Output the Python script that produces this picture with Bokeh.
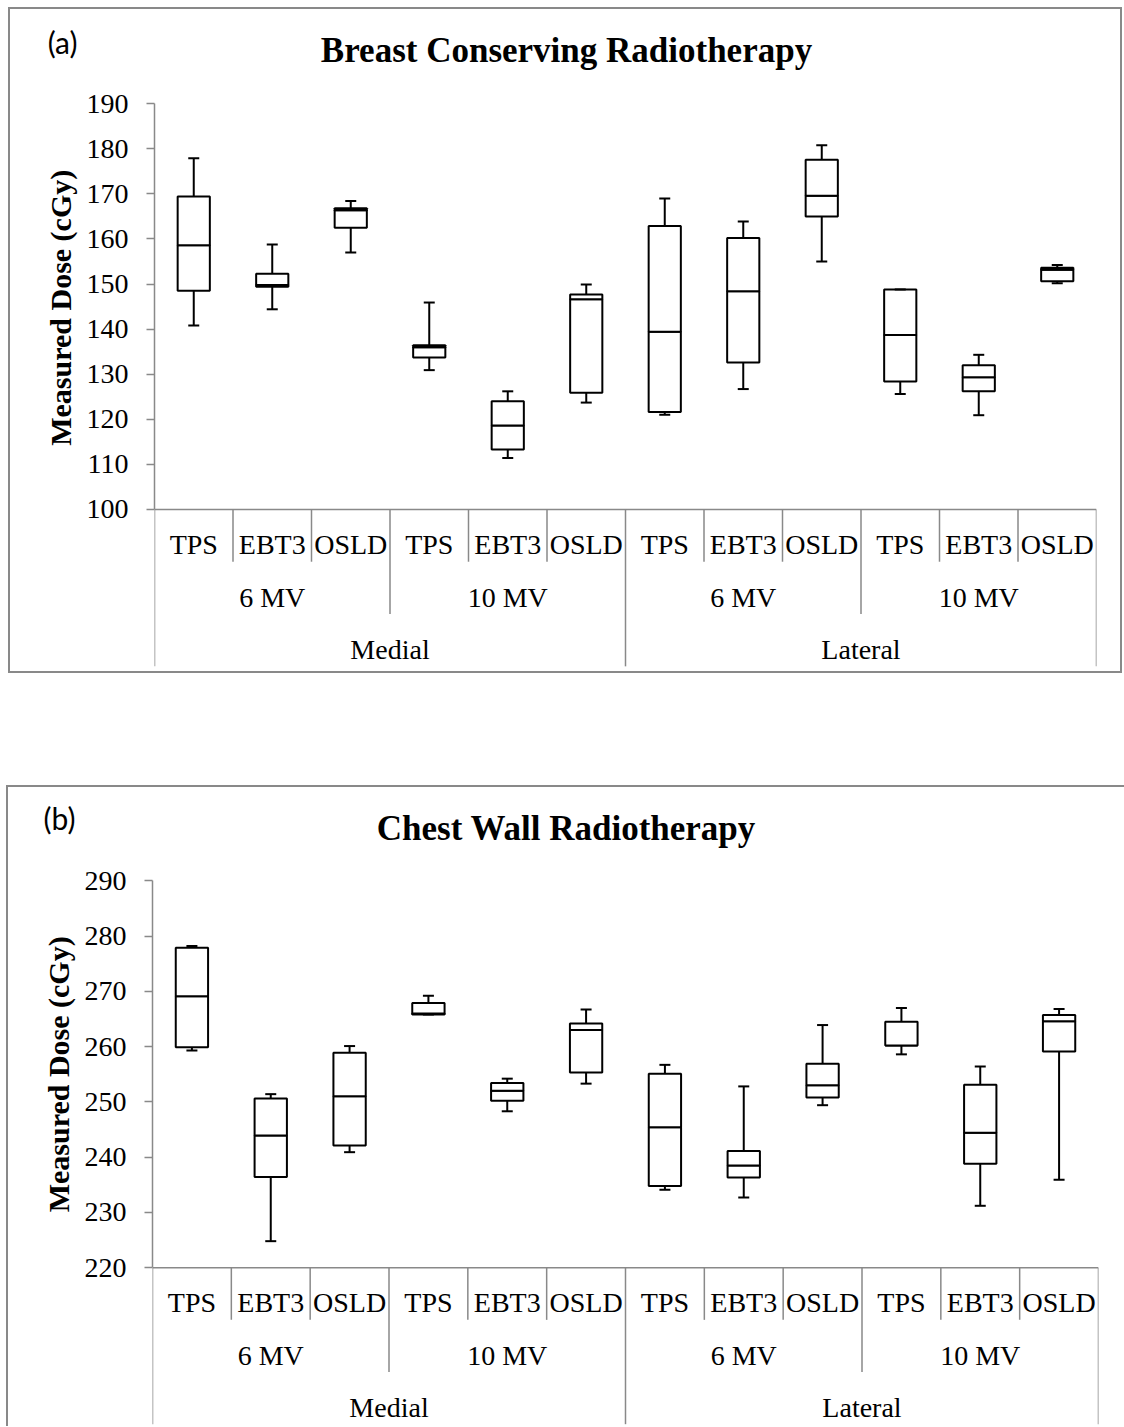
from bokeh.plotting import figure
from bokeh.models import (FactorRange, Range1d, LinearAxis, FixedTicker,
                          ColumnDataSource, Title)
from bokeh.layouts import column
from bokeh.embed import file_html
from bokeh.resources import INLINE
from bokeh.core.properties import value

# ---------------- data ----------------
positions = ["Medial", "Lateral"]
energies = ["6 MV", "10 MV"]
detectors = ["TPS", "EBT3", "OSLD"]
y_label = "Measured Dose (cGy)"

# (a) Breast conserving radiotherapy, cGy
a_title = "Breast Conserving Radiotherapy"
a_ticks = [100, 110, 120, 130, 140, 150, 160, 170, 180, 190]
a_min = [140.8, 144.4, 157.0, 130.9, 111.4, 123.7, 121.0, 126.7, 155.0, 125.6, 120.9, 150.2]
a_q1 = [148.5, 149.4, 162.5, 133.7, 113.3, 125.9, 121.6, 132.6, 165.0, 128.4, 126.2, 150.6]
a_med = [158.6, 149.8, 166.4, 136.0, 118.6, 146.6, 139.4, 148.4, 169.6, 138.7, 129.3, 153.2]
a_q3 = [169.4, 152.3, 166.8, 136.4, 124.0, 147.7, 162.9, 160.2, 177.6, 148.8, 132.0, 153.6]
a_max = [177.9, 158.8, 168.4, 145.9, 126.2, 149.9, 169.0, 163.9, 180.8, 148.8, 134.3, 154.2]

# (b) Chest wall radiotherapy, cGy
b_title = "Chest Wall Radiotherapy"
b_ticks = [220, 230, 240, 250, 260, 270, 280, 290]
b_min = [259.3, 224.8, 240.9, 265.8, 248.3, 253.3, 234.1, 232.7, 249.4, 258.6, 231.2, 235.9]
b_q1 = [259.9, 236.4, 242.1, 265.8, 250.2, 255.3, 234.8, 236.3, 250.8, 260.2, 238.8, 259.1]
b_med = [269.1, 243.9, 251.0, 266.0, 252.0, 263.0, 245.4, 238.5, 253.0, 260.2, 244.4, 264.6]
b_q3 = [277.9, 250.6, 258.9, 267.9, 253.4, 264.2, 255.1, 241.1, 256.9, 264.5, 253.1, 265.7]
b_max = [278.2, 251.4, 260.1, 269.2, 254.2, 266.7, 256.7, 252.8, 263.9, 267.0, 256.4, 266.8]

# ---------------- styling / layout ----------------
SERIF = value("Liberation Serif")
GREY = "#898989"
BW = 2          # panel border width (px)
ROW_PX = 52     # height of one category-label row (px)
YLABEL_PX = 30  # font size of the y axis title
YLABEL_LEN = 274  # its approximate rendered length (px)

factors = [(p, e, d) for p in positions for e in energies for d in detectors]
mids = [(p, e) for p in positions for e in energies]
tops = list(positions)


def make_panel(tag, title, ticks, stats, host, canvas, frame, ppu, top_px,
               tag_cy, border_css):
    """host = (left, top, width, height) of the panel box on the page,
    canvas = (left, top, width, height) of the drawing area inside the border,
    frame = (left_px, right_px) page positions of the category axis ends."""
    mn, q1, med, q3, mx = stats
    lo_t, hi_t = ticks[0], ticks[-1]
    c_left, c_top, c_w, c_h = canvas
    f_left, f_right = frame
    n = len(factors)
    px_per_cat = (f_right - f_left) / n
    y_hi = hi_t + top_px / ppu
    y_lo = hi_t - (c_h - top_px) / ppu

    def xd(page_x):
        return (page_x - f_left) / px_per_cat

    def yd(page_y):
        return hi_t - (page_y - (c_top + top_px)) / ppu

    xr = FactorRange(factors=factors, factor_padding=0, subgroup_padding=0,
                     group_padding=0, range_padding=0)
    p = figure(width=host[2], height=host[3], x_range=xr, y_range=Range1d(y_lo, y_hi),
               x_axis_location=None, y_axis_location=None, toolbar_location=None,
               output_backend="svg",
               min_border_left=int(round(f_left - c_left)),
               min_border_right=int(round(c_left + c_w - f_right)),
               min_border_top=0, min_border_bottom=0, outline_line_color=None,
               background_fill_color="white", border_fill_color="white")
    p.grid.visible = False
    p.styles = border_css
    p.margin = (host[1], 0, 0, host[0])

    # value axis
    ax = LinearAxis(bounds=(lo_t, hi_t), ticker=FixedTicker(ticks=ticks, minor_ticks=[]))
    ax.axis_line_color = GREY
    ax.axis_line_width = 1.5
    ax.major_tick_line_color = GREY
    ax.major_tick_line_width = 1.5
    ax.major_tick_out = 8
    ax.major_tick_in = 0
    ax.minor_tick_line_color = None
    ax.major_label_standoff = 18
    ax.major_label_text_font = "Liberation Serif"
    ax.major_label_text_font_size = "28px"
    ax.major_label_text_color = "black"
    p.add_layout(ax, "left")

    # axis title: a side title, positioned so it is centred on the tick span
    frame_bottom = c_top + c_h
    tick_cy = c_top + top_px + (hi_t - lo_t) * ppu / 2
    p.add_layout(Title(text=y_label, align="left",
                       offset=frame_bottom - (tick_cy + YLABEL_LEN / 2),
                       text_font="Liberation Serif", text_font_style="bold",
                       text_font_size="%dpx" % YLABEL_PX, text_color="black",
                       standoff=14), "left")

    # panel tag "(a)"/"(b)": an outer, line-less axis carrying one label
    tag_v = round(yd(tag_cy), 3)
    tag_ax = LinearAxis(ticker=FixedTicker(ticks=[tag_v], minor_ticks=[]),
                        major_label_overrides={tag_v: tag})
    tag_ax.axis_line_color = None
    tag_ax.major_tick_line_color = None
    tag_ax.minor_tick_line_color = None
    tag_ax.major_tick_out = 0
    tag_ax.major_tick_in = 0
    tag_ax.major_label_standoff = -43
    tag_ax.major_label_text_font = "Lato"
    tag_ax.major_label_text_font_size = "30px"
    tag_ax.major_label_text_color = "black"
    p.add_layout(tag_ax, "left")

    # category axis line and dividers
    p.segment(x0=[0], x1=[n], y0=[lo_t], y1=[lo_t], line_color=GREY, line_width=1.5)
    n_d, n_e = len(detectors), len(energies)
    bx, by = [], []
    for i in range(n + 1):
        if i % (n_d * n_e) == 0:
            lvl = 3
        elif i % n_d == 0:
            lvl = 2
        else:
            lvl = 1
        bx.append(i)
        by.append(lo_t - ROW_PX * lvl / ppu)
    p.segment(x0=bx, x1=bx, y0=[lo_t] * len(bx), y1=by, line_color=GREY, line_width=1.5)

    # category labels
    txt = dict(text_font=SERIF, text_font_size="28px", text_align="center",
               text_baseline="middle", text_color="black")
    p.text(x=factors, y=[lo_t - 35 / ppu] * n, text=[f[2] for f in factors], **txt)
    p.text(x=mids, y=[lo_t - 87.5 / ppu] * len(mids), text=[m[1] for m in mids], **txt)
    p.text(x=tops, y=[lo_t - 139 / ppu] * len(tops), text=tops, **txt)

    # title (centred on the panel)
    panel_cx = host[0] + host[2] / 2
    p.text(x=[xd(panel_cx)], y=[yd(host[1] + 42.5)], text=[title], text_font=SERIF,
           text_font_style="bold", text_font_size="35px", text_align="center",
           text_baseline="middle", text_color="black")

    # box plots
    src = ColumnDataSource(dict(x=factors, mn=mn, q1=q1, med=med, q3=q3, mx=mx))
    line = dict(line_color="black", line_width=2)
    p.segment(x0="x", y0="q3", x1="x", y1="mx", source=src, **line)
    p.segment(x0="x", y0="mn", x1="x", y1="q1", source=src, **line)
    p.vbar(x="x", width=0.41, bottom="q1", top="med", fill_color="white", source=src, **line)
    p.vbar(x="x", width=0.41, bottom="med", top="q3", fill_color="white", source=src, **line)
    p.scatter(x="x", y="mx", marker="dash", size=11, source=src, **line)
    p.scatter(x="x", y="mn", marker="dash", size=11, source=src, **line)
    return p


edge = "%dpx solid %s" % (BW, GREY)
border_all = {"border": edge, "box-sizing": "border-box"}
border_open = {"border-top": edge, "border-left": edge, "box-sizing": "border-box"}

# panel (a): full border
A_host = (8, 7, 1114, 666)
A_canvas = (A_host[0] + BW, A_host[1] + BW, A_host[2] - 2 * BW, A_host[3] - 2 * BW)
pa = make_panel("(a)", a_title, a_ticks, (a_min, a_q1, a_med, a_q3, a_max),
                A_host, A_canvas, (153, 1095), 4.48, 102.7 - A_canvas[1],
                41.7, border_all)

# panel (b): continues past the bottom/right of the window
B_host = (6, 785, 1118, 641)
B_canvas = (B_host[0] + BW, B_host[1] + BW, B_host[2] - BW, B_host[3] - BW)
pb = make_panel("(b)", b_title, b_ticks, (b_min, b_q1, b_med, b_q3, b_max),
                B_host, B_canvas, (152, 1096), 5.51, 880 - B_canvas[1],
                817.5, border_open)
pb.margin = (B_host[1] - (A_host[1] + A_host[3]), 0, 0, B_host[0])

layout = column(pa, pb, spacing=0)

open("out.html", "w").write(file_html(layout, INLINE))
